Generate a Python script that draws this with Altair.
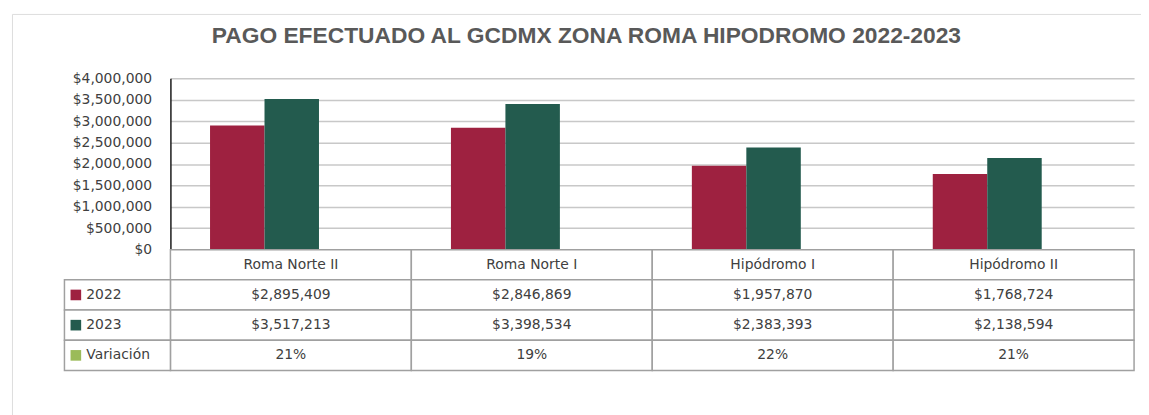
import altair as alt
import pandas as pd

# ---------------- data ----------------
categories = ["Roma Norte II", "Roma Norte I", "Hipódromo I", "Hipódromo II"]
years = ["2022", "2023"]
values_2022 = [2895409, 2846869, 1957870, 1768724]
values_2023 = [3517213, 3398534, 2383393, 2138594]
variacion = ["21%", "19%", "22%", "21%"]
row_labels = ["2022", "2023", "Variación"]
row_colors = ["#9E2140", "#235B4E", "#9BBB59"]
y_ticks = [0, 500000, 1000000, 1500000, 2000000, 2500000, 3000000, 3500000, 4000000]
title_text = "PAGO EFECTUADO AL GCDMX ZONA ROMA HIPODROMO 2022-2023"

# ---------------- tables ----------------
bars_df = pd.DataFrame(
    [{"cat": c, "year": "2022", "value": v} for c, v in zip(categories, values_2022)]
    + [{"cat": c, "year": "2023", "value": v} for c, v in zip(categories, values_2023)]
)

table_rows = ["hdr"] + row_labels
cells = []
for i, c in enumerate(categories):
    cells.append({"cat": c, "row": "hdr", "txt": c})
    cells.append({"cat": c, "row": "2022", "txt": f"${values_2022[i]:,}"})
    cells.append({"cat": c, "row": "2023", "txt": f"${values_2023[i]:,}"})
    cells.append({"cat": c, "row": "Variación", "txt": variacion[i]})
table_df = pd.DataFrame(cells)

legend_df = pd.DataFrame({"lk": ["k"] * len(row_labels), "row": row_labels})

# ---------------- layout (view = rounded frame) ----------------
FONT = "DejaVu Sans"
TXT = "#404040"
LINE = "#A0A0A0"
X_RANGE = [160, 1133]
OFFSET_RANGE = [40, 150]
Y_BAR_RANGE = [238, 65]
Y_TAB_RANGE = [238, 360]
LEG_RANGE = [53, 160]

x_cat = alt.X(
    "cat:N",
    sort=categories,
    scale=alt.Scale(domain=categories, range=X_RANGE, paddingInner=0, paddingOuter=0),
    axis=None,
)
y_tab = alt.Y(
    "row:N",
    sort=table_rows,
    scale=alt.Scale(domain=table_rows, range=Y_TAB_RANGE, paddingInner=0, paddingOuter=0),
    axis=None,
)

bars = alt.Chart(bars_df).mark_bar().encode(
    x=x_cat,
    xOffset=alt.XOffset(
        "year:N",
        sort=years,
        scale=alt.Scale(domain=years, range=OFFSET_RANGE, paddingInner=0, paddingOuter=0),
    ),
    y=alt.Y(
        "value:Q",
        scale=alt.Scale(domain=[0, 4000000], range=Y_BAR_RANGE, nice=False, zero=True),
        axis=alt.Axis(
            values=y_ticks,
            format="$,.0f",
            offset=-160,
            ticks=False,
            labelPadding=19,
            labelFont=FONT,
            labelFontSize=14,
            labelColor=TXT,
            domainColor="#1a1a1a",
            domainWidth=1.5,
            grid=True,
            gridColor="#C8C8C8",
            gridWidth=1.5,
            title=None,
        ),
    ),
    color=alt.Color("year:N", scale=alt.Scale(domain=years, range=row_colors[:2]), legend=None),
)

cells_rect = alt.Chart(table_df).mark_rect(
    fill="white", stroke=LINE, strokeWidth=1.5
).encode(x=x_cat, y=y_tab)

cells_text = alt.Chart(table_df).mark_text(
    font=FONT, fontSize=14, color=TXT, baseline="middle", align="center"
).encode(x=x_cat, y=y_tab, text="txt:N")

x_leg = alt.X(
    "lk:N",
    scale=alt.Scale(domain=["k"], range=LEG_RANGE, paddingInner=0, paddingOuter=0),
    axis=None,
)

leg_rect = alt.Chart(legend_df).mark_rect(
    fill="white", stroke=LINE, strokeWidth=1.5
).encode(x=x_leg, y=y_tab)

leg_sq = alt.Chart(legend_df).mark_square(size=115, opacity=1, xOffset=-42).encode(
    x=x_leg,
    y=y_tab,
    color=alt.Color("row:N", scale=alt.Scale(domain=row_labels, range=row_colors), legend=None),
)

leg_txt = alt.Chart(legend_df).mark_text(
    font=FONT, fontSize=14, color=TXT, align="left", baseline="middle", dx=-31.5
).encode(x=x_leg, y=y_tab, text="row:N")

chart = (
    alt.layer(bars, cells_rect, cells_text, leg_rect, leg_sq, leg_txt)
    .resolve_scale(x="independent", y="independent", color="independent")
    .properties(
        width=1140,
        height=405,
        padding={"left": 4, "top": 4, "right": 0, "bottom": 0},
        title=alt.TitleParams(
            title_text,
            font="Liberation Sans",
            fontSize=23,
            fontWeight="bold",
            color="#595959",
            anchor="middle",
            frame="group",
            offset=-36,
            dy=16,
            baseline="alphabetic",
            dx=10,
        ),
    )
    .configure_view(stroke="#959595", strokeWidth=1.6, cornerRadius=18)
    .configure(background="white")
)

chart.save("out.html", embed_options={"renderer": "svg", "actions": False})
